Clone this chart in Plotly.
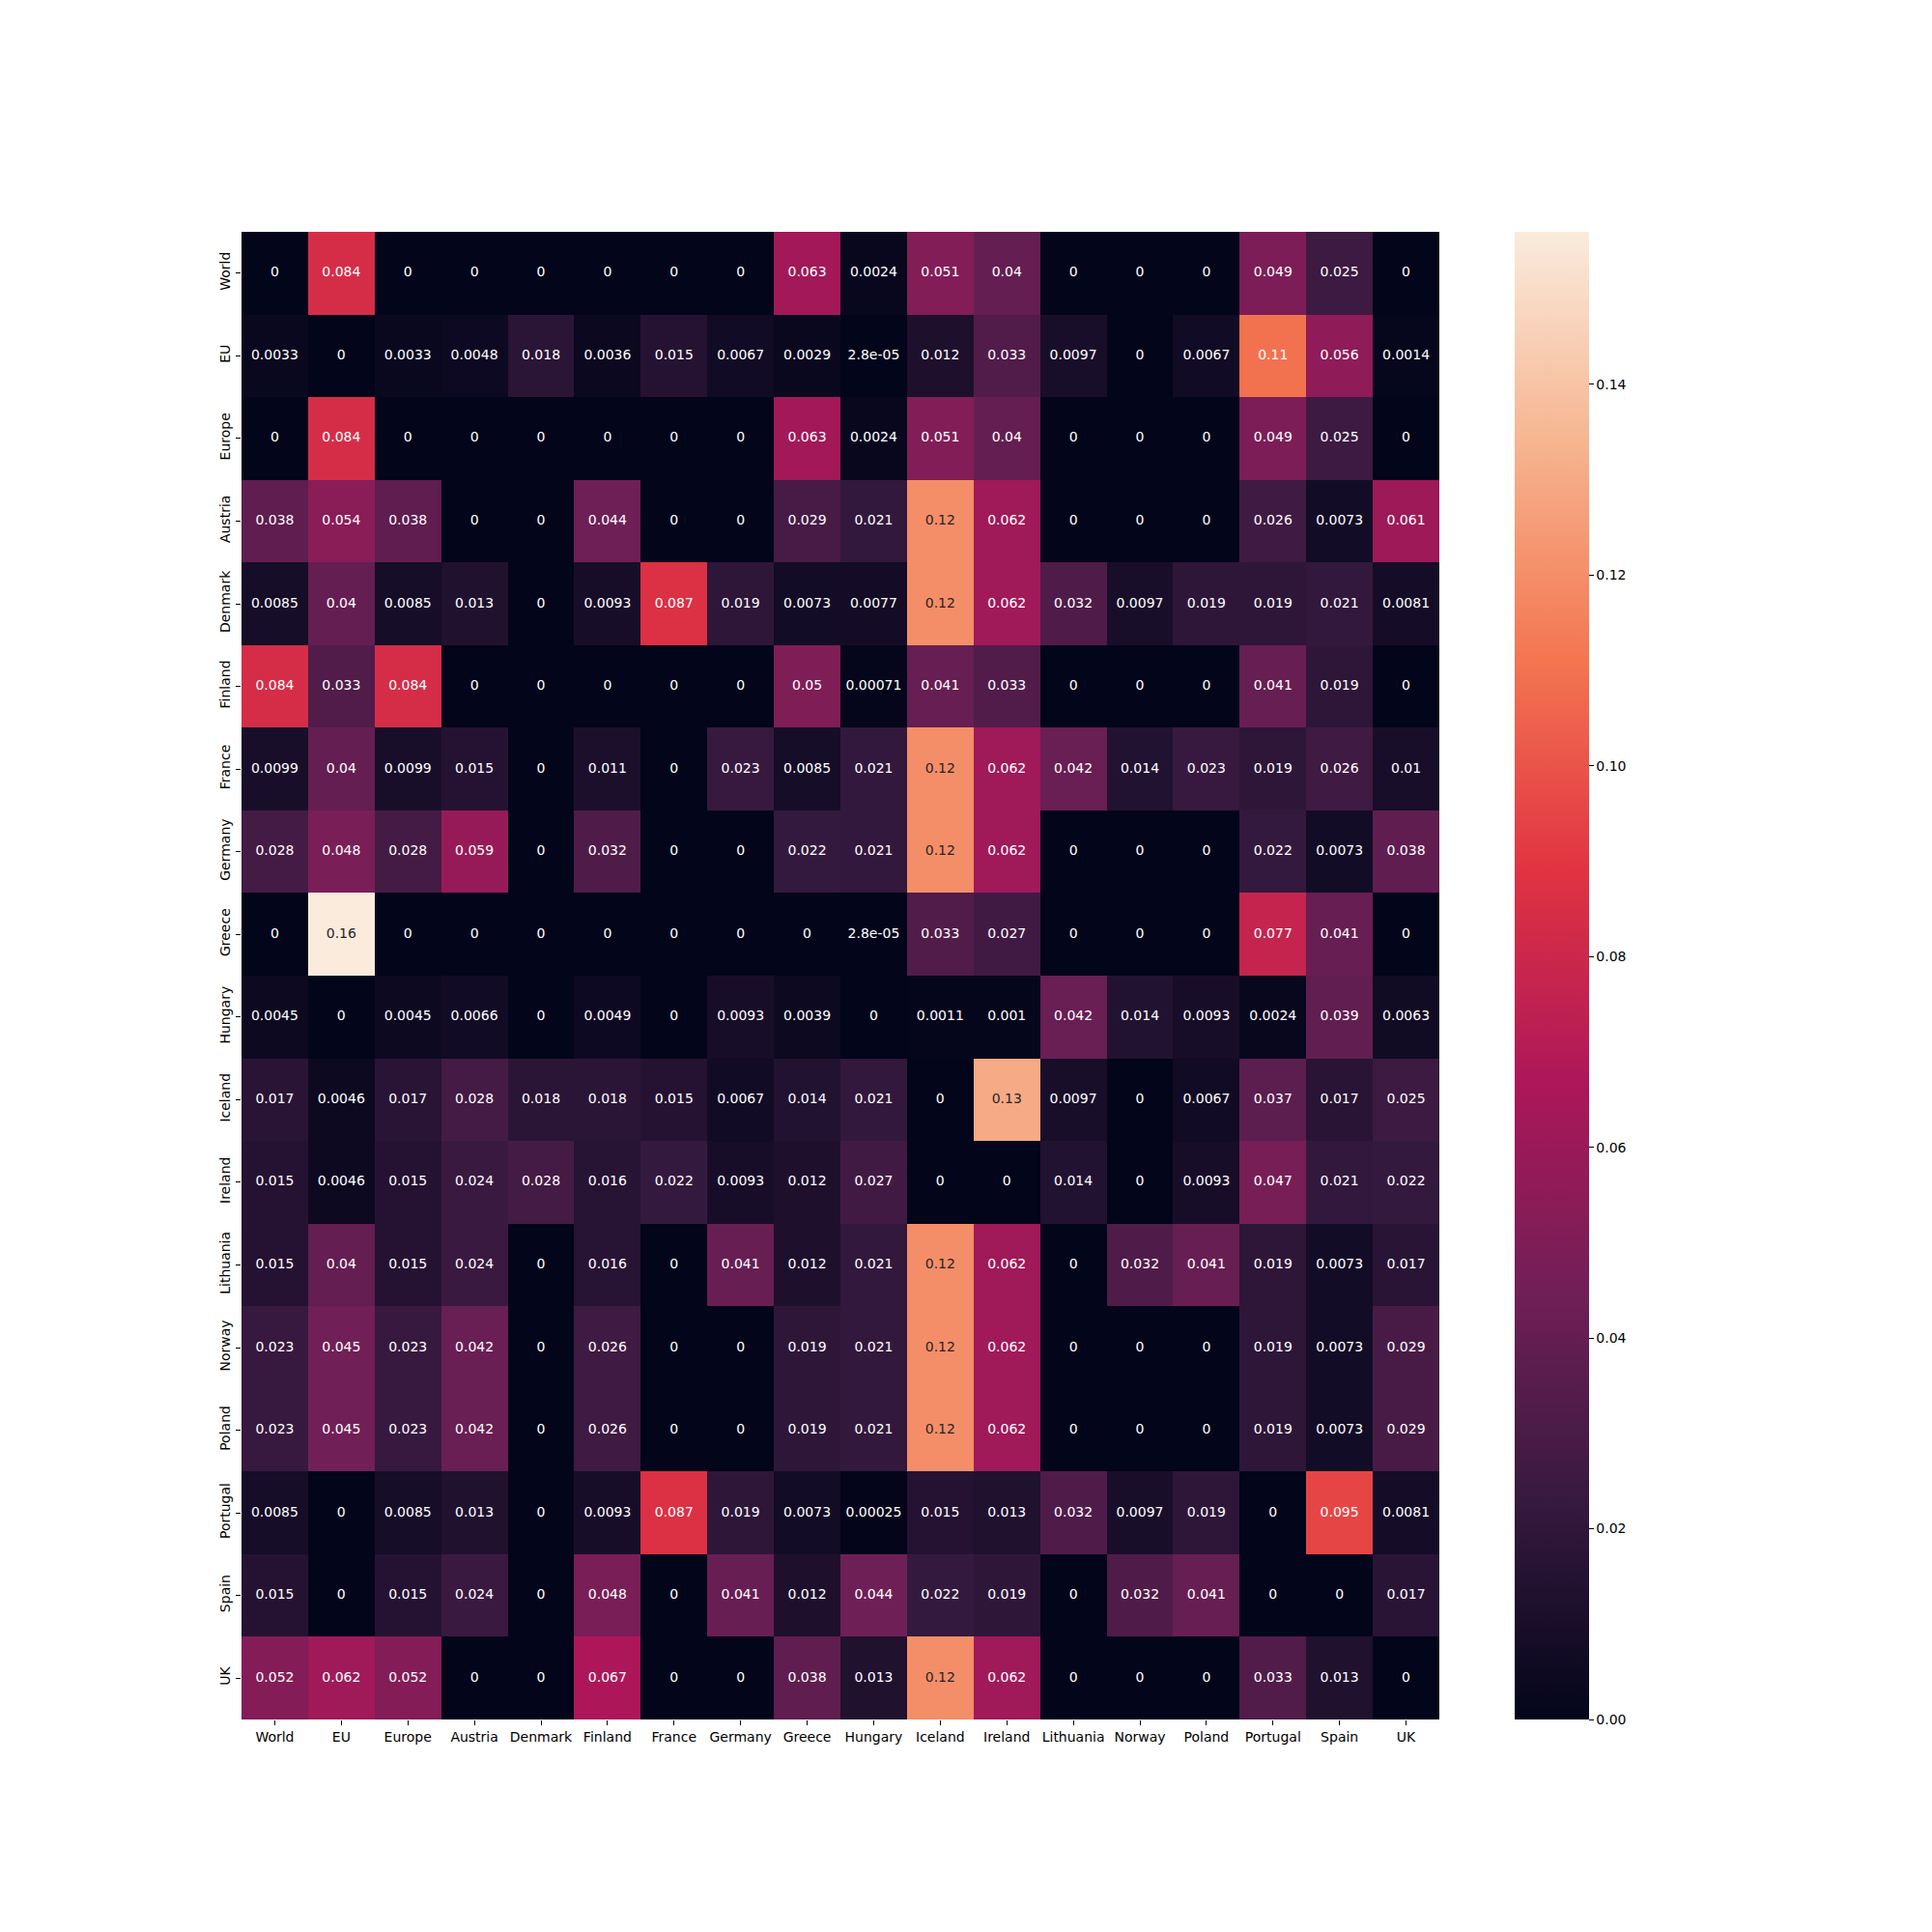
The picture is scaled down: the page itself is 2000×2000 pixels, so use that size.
import plotly.graph_objects as go

labels = ["World", "EU", "Europe", "Austria", "Denmark", "Finland", "France", "Germany",
          "Greece", "Hungary", "Iceland", "Ireland", "Lithuania", "Norway", "Poland",
          "Portugal", "Spain", "UK"]

row_world = [0, 0.084, 0, 0, 0, 0, 0, 0, 0.063, 0.0024, 0.051, 0.04, 0, 0, 0, 0.049, 0.025, 0]
row_eu = [0.0033, 0, 0.0033, 0.0048, 0.018, 0.0036, 0.015, 0.0067, 0.0029, 2.8e-05, 0.012, 0.033, 0.0097, 0, 0.0067, 0.11, 0.056, 0.0014]
row_europe = [0, 0.084, 0, 0, 0, 0, 0, 0, 0.063, 0.0024, 0.051, 0.04, 0, 0, 0, 0.049, 0.025, 0]
row_austria = [0.038, 0.054, 0.038, 0, 0, 0.044, 0, 0, 0.029, 0.021, 0.12, 0.062, 0, 0, 0, 0.026, 0.0073, 0.061]
row_denmark = [0.0085, 0.04, 0.0085, 0.013, 0, 0.0093, 0.087, 0.019, 0.0073, 0.0077, 0.12, 0.062, 0.032, 0.0097, 0.019, 0.019, 0.021, 0.0081]
row_finland = [0.084, 0.033, 0.084, 0, 0, 0, 0, 0, 0.05, 0.00071, 0.041, 0.033, 0, 0, 0, 0.041, 0.019, 0]
row_france = [0.0099, 0.04, 0.0099, 0.015, 0, 0.011, 0, 0.023, 0.0085, 0.021, 0.12, 0.062, 0.042, 0.014, 0.023, 0.019, 0.026, 0.01]
row_germany = [0.028, 0.048, 0.028, 0.059, 0, 0.032, 0, 0, 0.022, 0.021, 0.12, 0.062, 0, 0, 0, 0.022, 0.0073, 0.038]
row_greece = [0, 0.156, 0, 0, 0, 0, 0, 0, 0, 2.8e-05, 0.033, 0.027, 0, 0, 0, 0.077, 0.041, 0]
row_hungary = [0.0045, 0, 0.0045, 0.0066, 0, 0.0049, 0, 0.0093, 0.0039, 0, 0.0011, 0.001, 0.042, 0.014, 0.0093, 0.0024, 0.039, 0.0063]
row_iceland = [0.017, 0.0046, 0.017, 0.028, 0.018, 0.018, 0.015, 0.0067, 0.014, 0.021, 0, 0.13, 0.0097, 0, 0.0067, 0.037, 0.017, 0.025]
row_ireland = [0.015, 0.0046, 0.015, 0.024, 0.028, 0.016, 0.022, 0.0093, 0.012, 0.027, 0, 0, 0.014, 0, 0.0093, 0.047, 0.021, 0.022]
row_lithuania = [0.015, 0.04, 0.015, 0.024, 0, 0.016, 0, 0.041, 0.012, 0.021, 0.12, 0.062, 0, 0.032, 0.041, 0.019, 0.0073, 0.017]
row_norway = [0.023, 0.045, 0.023, 0.042, 0, 0.026, 0, 0, 0.019, 0.021, 0.12, 0.062, 0, 0, 0, 0.019, 0.0073, 0.029]
row_poland = [0.023, 0.045, 0.023, 0.042, 0, 0.026, 0, 0, 0.019, 0.021, 0.12, 0.062, 0, 0, 0, 0.019, 0.0073, 0.029]
row_portugal = [0.0085, 0, 0.0085, 0.013, 0, 0.0093, 0.087, 0.019, 0.0073, 0.00025, 0.015, 0.013, 0.032, 0.0097, 0.019, 0, 0.095, 0.0081]
row_spain = [0.015, 0, 0.015, 0.024, 0, 0.048, 0, 0.041, 0.012, 0.044, 0.022, 0.019, 0, 0.032, 0.041, 0, 0, 0.017]
row_uk = [0.052, 0.062, 0.052, 0, 0, 0.067, 0, 0, 0.038, 0.013, 0.12, 0.062, 0, 0, 0, 0.033, 0.013, 0]

z = [row_world, row_eu, row_europe, row_austria, row_denmark, row_finland, row_france,
     row_germany, row_greece, row_hungary, row_iceland, row_ireland, row_lithuania,
     row_norway, row_poland, row_portugal, row_spain, row_uk]

cbar_ticks = [0.0, 0.02, 0.04, 0.06, 0.08, 0.10, 0.12, 0.14]

rocket = [
    [0.0, "#03051a"],
    [1/7, "#35193e"],
    [2/7, "#701f57"],
    [3/7, "#ad1759"],
    [4/7, "#e13342"],
    [5/7, "#f37651"],
    [6/7, "#f6b48f"],
    [1.0, "#faebdd"],
]

zmax = max(max(r) for r in z)
n = len(labels)

fig = go.Figure()
fig.add_trace(go.Heatmap(
    z=z, x=labels, y=labels, colorscale=rocket, zmin=0, zmax=zmax,
    hoverinfo="skip",
    colorbar=dict(
        x=1560/2000, xanchor="left", y=1 - 232/2000, yanchor="top",
        len=1540, lenmode="pixels", thickness=77, outlinewidth=0,
        tickvals=cbar_ticks, tickformat=".2f", ticks="outside", ticklen=5,
        tickcolor="#000", tickfont=dict(family="DejaVu Sans", size=14, color="#000"),
        xpad=0, ypad=0,
    ),
))

tx, ty, tt, tc = [], [], [], []
for i, rl in enumerate(labels):
    for j, cl in enumerate(labels):
        v = z[i][j]
        tx.append(cl)
        ty.append(rl)
        tt.append(format(v, ".2g"))
        tc.append("#262626" if v > 0.115 else "#ffffff")

fig.add_trace(go.Scatter(
    x=tx, y=ty, text=tt, mode="text",
    textfont=dict(family="DejaVu Sans", size=14, color=tc),
    hoverinfo="skip", showlegend=False, cliponaxis=False,
))

fig.update_layout(
    width=2000, height=2000, margin=dict(l=0, r=0, t=0, b=0),
    paper_bgcolor="white", plot_bgcolor="white", showlegend=False,
    font=dict(family="DejaVu Sans", size=14, color="#000"),
    xaxis=dict(domain=[242/2000, 1482/2000], type="category", categoryorder="array",
               categoryarray=labels, range=[-0.5, n - 0.5], autorange=False,
               ticks="outside", ticklen=5, tickcolor="#000",
               showgrid=False, zeroline=False, showline=False,
               tickfont=dict(family="DejaVu Sans", size=14)),
    yaxis=dict(domain=[1 - 1772/2000, 1 - 232/2000], type="category", categoryorder="array",
               categoryarray=labels, range=[n - 0.5, -0.5], autorange=False,
               ticks="outside", ticklen=5,
               tickcolor="#000", tickangle=-90, showgrid=False, zeroline=False,
               showline=False, tickfont=dict(family="DejaVu Sans", size=14)),
)

fig.write_html("out.html")
